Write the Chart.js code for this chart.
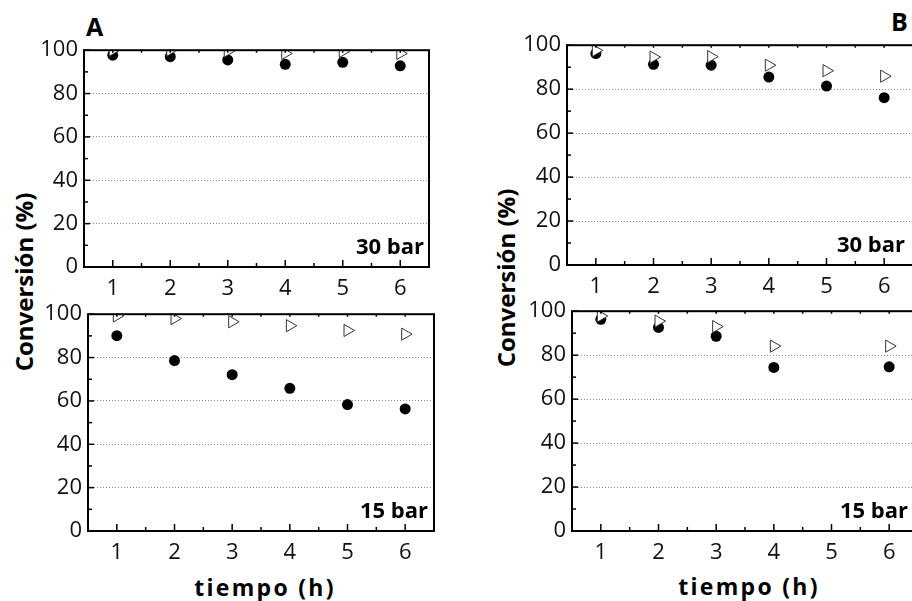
<!DOCTYPE html>
<html>
<head>
<meta charset="utf-8">
<script src="https://cdn.jsdelivr.net/npm/chart.js@4.4.0/dist/chart.umd.min.js"></script>
<style>
  html, body { margin: 0; padding: 0; background: #fff; overflow: hidden; }
  body { width: 912px; height: 601px; position: relative; font-family: "Open Sans", sans-serif; }
  canvas { position: absolute; }
  .lbl { position: absolute; font-weight: bold; color: #000; line-height: 1; white-space: nowrap; }
  .ytitle { font-size: 24px; transform: translate(-50%, -50%) rotate(-90deg); }
  .xtitle { font-size: 23px; letter-spacing: 2.3px; transform: translateX(-50%); }
</style>
</head>
<body>
<div class="lbl" style="left:86px;top:14px;font-size:25px">A</div>
<div class="lbl" style="left:891px;top:9px;font-size:25px">B</div>
<div class="lbl ytitle" style="left:24px;top:282px">Conversión (%)</div>
<div class="lbl ytitle" style="left:506px;top:278px">Conversión (%)</div>
<div class="lbl xtitle" style="left:265px;top:576px">tiempo (h)</div>
<div class="lbl xtitle" style="left:749px;top:575px">tiempo (h)</div>

<canvas id="a30"></canvas>
<canvas id="a15"></canvas>
<canvas id="b30"></canvas>
<canvas id="b15"></canvas>

<script>
// ===== Data =====
const tiempo = [1, 2, 3, 4, 5, 6];
const xTicks = [1, 2, 3, 4, 5, 6];
const yTicks = [0, 20, 40, 60, 80, 100];

// A, 30 bar
const a30Circle = [97.7, 97.0, 95.5, 93.5, 94.4, 92.8];
const a30Triangle = [100, 100, 99.6, 98.5, 99.4, 98.5];
// A, 15 bar
const a15Circle = [90.1, 78.6, 72.1, 65.8, 58.3, 56.3];
const a15Triangle = [99.2, 98.0, 96.5, 94.7, 92.5, 90.8];
// B, 30 bar
const b30Circle = [96.2, 91.3, 90.9, 85.5, 81.4, 76.1];
const b30Triangle = [97.6, 94.6, 94.8, 90.9, 88.4, 85.9];
// B, 15 bar
const b15Circle = [96.3, 92.6, 88.6, 74.4, null, 74.7];
const b15Triangle = [97.8, 95.5, 93.0, 84.1, null, 84.1];

const PAD_L = 80, PAD_T = 15, PAD_R = 15, PAD_B = 40;
const tickFont = { family: '"Open Sans", sans-serif', size: 22 };

// frame, inward ticks and the pressure label
const framePlugin = {
  id: 'frame',
  afterDatasetsDraw(chart, args, opts) {
    const { ctx, chartArea: a } = chart;
    const x = chart.scales.x, y = chart.scales.y;
    ctx.save();
    ctx.strokeStyle = '#000';
    ctx.lineWidth = 1.5;
    for (let v = 0; v <= 100; v += 10) {
      const py = y.getPixelForValue(v);
      const len = v % 20 === 0 ? 6 : 4;
      ctx.beginPath(); ctx.moveTo(a.left, py); ctx.lineTo(a.left + len, py); ctx.stroke();
    }
    for (let v = 0.5; v <= 6.5; v += 0.5) {
      const px = x.getPixelForValue(v);
      const len = Number.isInteger(v) ? 7 : 4;
      ctx.beginPath(); ctx.moveTo(px, a.bottom); ctx.lineTo(px, a.bottom - len); ctx.stroke();
      ctx.beginPath(); ctx.moveTo(px, a.top); ctx.lineTo(px, a.top + 2.5); ctx.stroke();
    }
    ctx.lineWidth = 2;
    ctx.strokeRect(a.left, a.top, a.right - a.left, a.bottom - a.top);
    ctx.font = 'bold 22px "Open Sans", sans-serif';
    ctx.textAlign = 'right';
    ctx.textBaseline = 'alphabetic';
    ctx.fillStyle = '#000';
    ctx.fillText(opts.text, a.right - opts.dx, a.bottom - 13);
    ctx.restore();
  }
};

function makePanel(id, box, circles, triangles, label, dx) {
  const el = document.getElementById(id);
  el.width = box.W + PAD_L + PAD_R;
  el.height = box.H + PAD_T + PAD_B;
  el.style.left = (box.L - PAD_L) + 'px';
  el.style.top = (box.T - PAD_T) + 'px';

  new Chart(el, {
    type: 'scatter',
    data: {
      datasets: [
        {
          data: tiempo.map((t, i) => ({ x: t, y: triangles[i] })),
          pointStyle: 'triangle', pointRotation: 90, pointRadius: 7,
          pointBackgroundColor: '#fff', pointBorderColor: '#333', pointBorderWidth: 1,
          clip: 0
        },
        {
          data: tiempo.map((t, i) => ({ x: t, y: circles[i] })),
          pointStyle: 'circle', pointRadius: 5.5,
          pointBackgroundColor: '#000', pointBorderColor: '#000', pointBorderWidth: 0,
          clip: 0
        }
      ]
    },
    options: {
      responsive: false, animation: false, devicePixelRatio: 1,
      layout: { padding: { top: PAD_T, right: PAD_R, left: 0, bottom: 0 } },
      plugins: { legend: { display: false }, tooltip: { enabled: false }, frame: { text: label, dx: dx } },
      scales: {
        x: {
          type: 'linear', min: 0.5, max: 6.5,
          afterBuildTicks: s => { s.ticks = xTicks.map(v => ({ value: v })); },
          afterFit: s => { s.height = PAD_B; },
          grid: { display: false, drawTicks: false },
          border: { display: false },
          ticks: { padding: 9, font: tickFont, color: '#111', maxRotation: 0, autoSkip: false }
        },
        y: {
          min: 0, max: 100,
          afterBuildTicks: s => { s.ticks = yTicks.map(v => ({ value: v })); },
          afterFit: s => { s.width = PAD_L; },
          grid: {
            drawTicks: false, lineWidth: 1,
            color: c => (c.tick && c.tick.value > 0 && c.tick.value < 100) ? '#8a8a8a' : 'rgba(0,0,0,0)'
          },
          border: { display: false, dash: [1, 2] },
          ticks: { padding: 6, font: tickFont, color: '#111' }
        }
      }
    },
    plugins: [framePlugin]
  });
}

makePanel('a30', { L: 84, T: 46, W: 345, H: 221 }, a30Circle, a30Triangle, '30 bar', 5);
makePanel('a15', { L: 88, T: 310, W: 346, H: 221 }, a15Circle, a15Triangle, '15 bar', 6);
makePanel('b30', { L: 567, T: 41, W: 346, H: 224 }, b30Circle, b30Triangle, '30 bar', 8);
makePanel('b15', { L: 572, T: 307, W: 346, H: 224 }, b15Circle, b15Triangle, '15 bar', 10);
</script>
</body>
</html>
